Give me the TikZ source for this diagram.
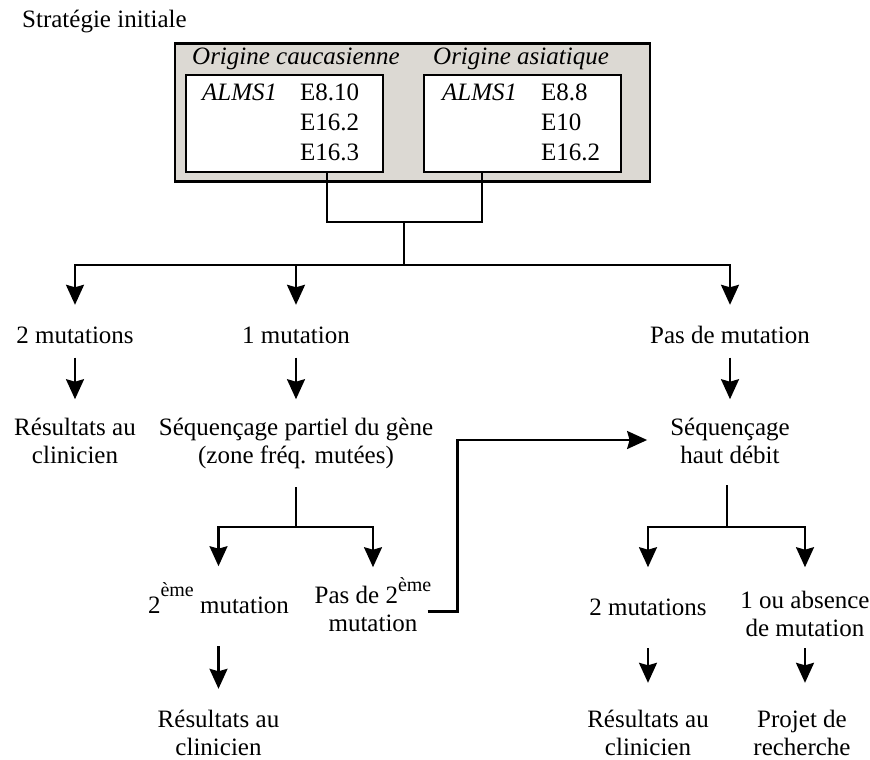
\documentclass[tikz,border=0pt]{standalone}
\usepackage{fontspec}
\setmainfont{Liberation Serif}
\usetikzlibrary{arrows.meta,calc}
\definecolor{boxgray}{RGB}{220,217,211}
\newcommand{\twoline}[2]{\begin{tabular}[t]{@{}c@{}}#1\\#2\end{tabular}}
\newcommand{\supr}[2]{\raisebox{#1}[0pt][0pt]{\fontsize{20}{20}\selectfont #2}}
\begin{document}
\begin{tikzpicture}[x=1pt,y=-1pt,
  ln/.style={line width=2.2pt},
  arr/.style={line width=2.2pt,-{Stealth[length=20pt,width=18pt,inset=2.5pt]}},
  txt/.style={inner sep=0pt,anchor=base,font=\fontsize{25}{28}\selectfont},
  lbl/.style={inner sep=0pt,anchor=base west,font=\fontsize{25}{28}\selectfont},
  ilbl/.style={inner sep=0pt,anchor=base west,font=\fontsize{25}{28}\selectfont\itshape},
  outerbox/.style={draw,line width=2.2pt,fill=boxgray,inner sep=0pt,minimum width=475pt,minimum height=138pt},
  innerbox/.style={draw,line width=2.2pt,fill=white,inner sep=0pt,minimum width=197pt,minimum height=97pt}]
\useasboundingbox (0,0) rectangle (870,760);

% top
\node[lbl] (strat) at (22,28) {Stratégie initiale};
\node[outerbox] (outer) at (412.5,112.5) {};
\node[innerbox] (lbox) at (284.5,123.5) {};
\node[innerbox] (rbox) at (522.5,123.5) {};
\node[ilbl] (oc) at (192,64) {Origine caucasienne};
\node[ilbl] (oa) at (433,64) {Origine asiatique};
\node[ilbl] (al) at (202,100) {ALMS1};
\node[lbl] (l1) at (300,100) {E8.10};
\node[lbl] (l2) at (300,130) {E16.2};
\node[lbl] (l3) at (300,160) {E16.3};
\node[ilbl] (ar) at (442,100) {ALMS1};
\node[lbl] (r1a) at (541,100) {E8.8};
\node[lbl] (r2a) at (541,130) {E10};
\node[lbl] (r3a) at (541,160) {E16.2};

\coordinate (join) at (404,222);
\coordinate (bar) at (404,265);
\draw[ln] ([xshift=42.5pt]lbox.south) |- (join) -| ([xshift=-40.5pt]rbox.south);
\draw[ln] (join) -- (bar);

% level 2
\node[txt] (m2) at (75,343) {\strut 2 mutations};
\node[txt] (m1) at (296,343) {\strut 1 mutation};
\node[txt] (m0) at (730,343) {\strut Pas de mutation};
\draw[arr] (bar) -| ([yshift=18.4pt]m2.north);
\draw[arr] (bar) -| ([yshift=18.4pt]m1.north);
\draw[arr] (bar) -| ([yshift=18.4pt]m0.north);

% level 3
\node[txt] (r1) at (75,435) {\twoline{Résultats au}{clinicien}};
\node[txt] (seq1) at (296,435) {\twoline{Séquençage partiel du gène}{(zone fréq. mutées)}};
\node[txt] (seq2) at (730,435) {\twoline{Séquençage}{haut débit}};
\draw[arr] ([yshift=-6pt]m2.south) -- ([yshift=16pt]r1.north);
\draw[arr] ([yshift=-6pt]m1.south) -- ([yshift=16pt]seq1.north);
\draw[arr] ([yshift=-6pt]m0.south) -- ([yshift=16pt]seq2.north);

% splits
\draw[ln] ([yshift=-15.6pt]seq1.south) -- ++(0,40) coordinate (sp1);
\draw[ln] ([xshift=-3pt,yshift=-13.6pt]seq2.south) -- ++(0,42) coordinate (sp2);

% level 4
\node[txt] (m2e) at (218.5,613) {\strut 2\supr{17pt}{ème} mutation};
\node[txt] (p2e) at (373,603) {\twoline{Pas de 2\supr{12pt}{ème}}{mutation}};
\node[txt] (rm2) at (648,615) {\strut 2 mutations};
\node[txt] (rabs) at (805,608) {\twoline{1 ou absence}{de mutation}};
\draw[arr] (sp1) -| ([yshift=27pt]m2e.north);
\draw[arr] (sp1) -| ([yshift=16pt]p2e.north);
\draw[arr] (sp2) -| ([yshift=28pt]rm2.north);
\draw[arr] (sp2) -| ([yshift=21pt]rabs.north);

% elbow to high-throughput sequencing
\draw[arr] ([xshift=-4pt]p2e.east) -- ++(30,0) |- ([xshift=-23pt,yshift=3.4pt]seq2.west);

% level 5
\node[txt] (rr1) at (218.5,727) {\twoline{Résultats au}{clinicien}};
\node[txt] (rr2) at (648,727) {\twoline{Résultats au}{clinicien}};
\node[txt] (proj) at (802,727) {\twoline{Projet de}{recherche}};
\draw[arr] ([yshift=-24.6pt]m2e.south) -- ([yshift=18.4pt]rr1.north);
\draw[arr] ([yshift=-24.6pt]rm2.south) -- ([yshift=24.4pt]rr2.north);
\draw[arr] ([yshift=-3.6pt]rabs.south) -- ([yshift=24.4pt]rabs.south |- proj.north);
\end{tikzpicture}
\end{document}
